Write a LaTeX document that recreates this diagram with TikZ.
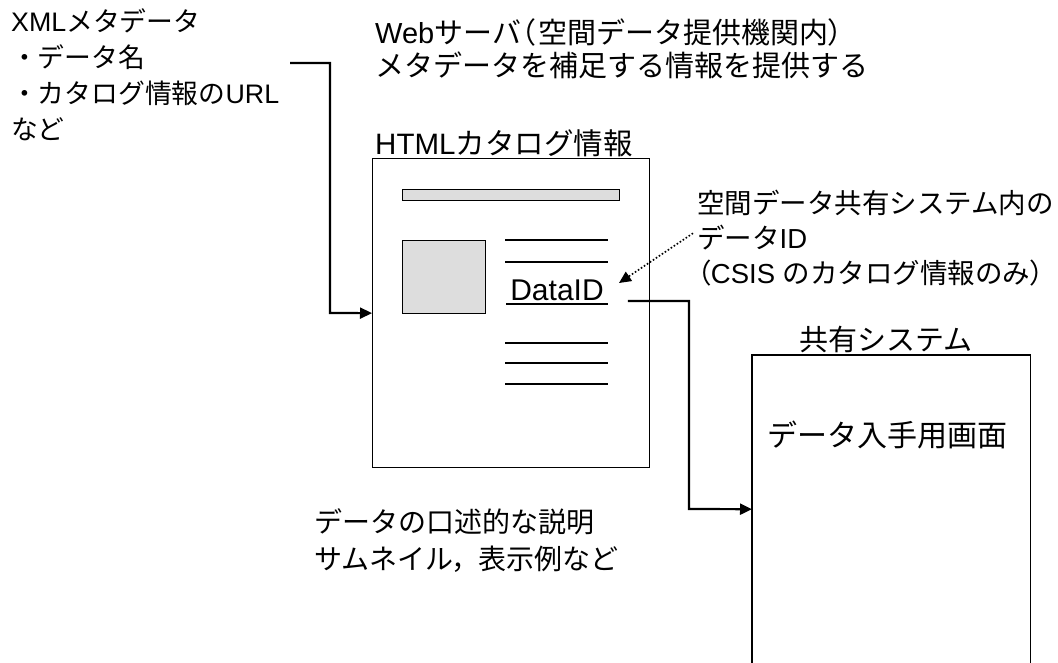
\documentclass[tikz,border=0pt]{standalone}
\usepackage{fontspec}
\setmainfont{Noto Sans CJK JP}
\newfontfamily\lat{Liberation Sans}
\newfontfamily\cjkp[RawFeature=+palt]{Noto Sans CJK JP}
\usetikzlibrary{arrows.meta}
\definecolor{lightg}{RGB}{221,221,221}
\begin{document}
\begin{tikzpicture}[x=1pt,y=-1pt,
  txt/.style={inner sep=0pt, align=left, anchor=north west},
  boxline/.style={draw, line width=1.3pt},
  thinrule/.style={line width=1.5pt},
  grayfill/.style={draw, line width=1.3pt, fill=lightg},
  conn/.style={line width=2.2pt, -{Triangle[length=12pt,width=11pt]}},
  dotconn/.style={line width=1.6pt, dotted, -{Triangle[length=12pt,width=11pt]}}]
\useasboundingbox (0,0) rectangle (1058,663);
\fill[white] (0,0) rectangle (1058,663);

% texts
\node[txt, font=\fontsize{26.8}{36}\selectfont] (xml) at (11,8)
  {{\lat XML}メタデータ\\・データ名\\・カタログ情報の{\lat URL}\\など};
\node[txt, font=\fontsize{29}{33}\selectfont] (web) at (375,18)
  {{\lat Web}サーバ{\cjkp （}\hspace{0.12em}空間データ提供機関内{\cjkp ）}\\メタデータを補足する情報を提供する};

% HTML catalogue box
\node[boxline, minimum width=277pt, minimum height=309pt, inner sep=0pt, anchor=north west] (html) at (372,158) {};
\node[inner sep=0pt, anchor=south west, font=\fontsize{29.5}{33}\selectfont] (htmllbl) at ([xshift=3pt,yshift=1pt]html.north west) {{\lat HTML}カタログ情報};

\node[grayfill, minimum width=217pt, minimum height=11pt, inner sep=0pt, anchor=north west] (bar) at (402,189) {};
\node[grayfill, minimum width=83pt, minimum height=73pt, inner sep=0pt, anchor=north west] (thumb) at (402,240) {};
\coordinate (l1a) at (505,240); \coordinate (l1b) at (608,240);
\coordinate (l2a) at (505,262); \coordinate (l2b) at (608,262);
\coordinate (l3a) at (505,343); \coordinate (l3b) at (608,343);
\coordinate (l4a) at (505,363); \coordinate (l4b) at (608,363);
\coordinate (l5a) at (505,384); \coordinate (l5b) at (608,384);
\draw[thinrule] (l1a) -- (l1b);
\draw[thinrule] (l2a) -- (l2b);
\draw[thinrule] (l3a) -- (l3b);
\draw[thinrule] (l4a) -- (l4b);
\draw[thinrule] (l5a) -- (l5b);

\node[inner xsep=4pt, inner ysep=0pt, anchor=base, font=\lat\fontsize{30}{30}\selectfont] (dataid) at (557,301) {DataID};
\draw[thinrule] ([yshift=-3pt]dataid.base west) -- ([yshift=-3pt]dataid.base east);

% note on DataID
\node[txt, font=\fontsize{27.5}{35}\selectfont] (note) at (697,190)
  {空間データ共有システム内の\\データ{\lat ID}\\{\cjkp （}{\lat CSIS }のカタログ情報のみ{\cjkp ）}};

% shared system box (open at the bottom)
\node[minimum width=278pt, minimum height=308pt, inner sep=0pt, anchor=north west] (sys) at (752,355) {};
\draw[boxline] ([yshift=-30pt]sys.south west) -- (sys.north west) -- (sys.north east) -- ([yshift=-30pt]sys.south east);
\node[inner sep=0pt, anchor=south, font=\fontsize{29}{33}\selectfont] (syslbl) at ([xshift=-5pt,yshift=2pt]sys.north) {共有システム};
\node[inner sep=0pt, font=\fontsize{30}{33}\selectfont] (screen) at (887,435) {データ入手用画面};

% description under the HTML box
\node[txt, font=\fontsize{28}{37}\selectfont] (desc) at (314,508)
  {データの口述的な説明\\サムネイル{\cjkp ，}\hspace{0.4em}表示例など};

% connectors
\coordinate (xmlend) at (290,63);
\draw[conn] (xmlend) -- (330,63) -- (330,313) -- (html.west);
\draw[conn] ([xshift=20pt]dataid.base east) -- (689,301) -- (689,509) -- (sys.west);
\draw[dotconn] ([xshift=-4pt,yshift=5pt]note.west) -- (619,283);
\end{tikzpicture}
\end{document}
